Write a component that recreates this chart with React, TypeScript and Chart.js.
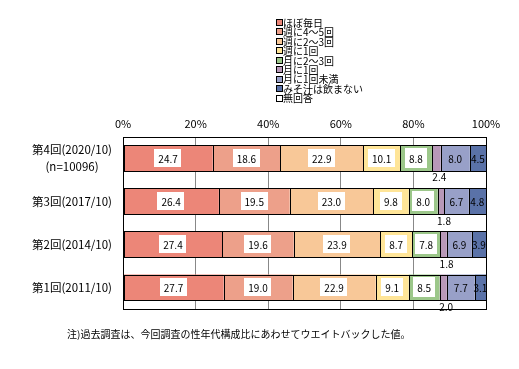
import React, { useEffect, useRef } from "react";
import { Chart, registerables } from "chart.js";

Chart.register(...registerables);

const categories: (string | string[])[] = [
  ["第4回(2020/10)", "(n=10096)"],
  "第3回(2017/10)",
  "第2回(2014/10)",
  "第1回(2011/10)",
];

const seriesNames = [
  "ほぼ毎日",
  "週に4～5回",
  "週に2～3回",
  "週に1回",
  "月に2～3回",
  "月に1回",
  "月に1回未満",
  "みそ汁は飲まない",
  "無回答",
];

const seriesColors = [
  "#EC8678",
  "#EDA08A",
  "#F8C898",
  "#FFE598",
  "#9CC78A",
  "#B898B8",
  "#98A0C8",
  "#5A72A8",
  "#FFFFFF",
];

const almostDaily = [24.7, 26.4, 27.4, 27.7];
const week4to5 = [18.6, 19.5, 19.6, 19.0];
const week2to3 = [22.9, 23.0, 23.9, 22.9];
const week1 = [10.1, 9.8, 8.7, 9.1];
const month2to3 = [8.8, 8.0, 7.8, 8.5];
const month1 = [2.4, 1.8, 1.8, 2.0];
const lessThanMonthly = [8.0, 6.7, 6.9, 7.7];
const never = [4.5, 4.8, 3.9, 3.1];
const noAnswer = [0, 0, 0, 0];

const seriesValues = [
  almostDaily,
  week4to5,
  week2to3,
  week1,
  month2to3,
  month1,
  lessThanMonthly,
  never,
  noAnswer,
];

const xTicks = [0, 20, 40, 60, 80, 100];

const footnote = "注)過去調査は、今回調査の性年代構成比にあわせてウエイトバックした値。";

const FONT = "'Noto Sans CJK JP', 'Noto Sans', sans-serif";

const labelPlugin = {
  id: "customLabels",
  afterDatasetsDraw(chart: any) {
    const ctx = chart.ctx;
    ctx.save();
    // segment outlines, pixel aligned
    ctx.strokeStyle = "#000";
    ctx.lineWidth = 1;
    chart.data.datasets.forEach((ds: any, i: number) => {
      const meta = chart.getDatasetMeta(i);
      meta.data.forEach((bar: any, j: number) => {
        if (!ds.data[j]) return;
        const l = Math.round(Math.min(bar.x, bar.base));
        const r = Math.round(Math.max(bar.x, bar.base));
        const t = Math.round(bar.y - bar.height / 2);
        const b = Math.round(bar.y + bar.height / 2);
        ctx.strokeRect(l + 0.5, t + 0.5, r - l, b - t);
      });
    });

    ctx.font = `10px ${FONT}`;
    ctx.textAlign = "center";
    ctx.textBaseline = "middle";
    chart.data.datasets.forEach((ds: any, i: number) => {
      const meta = chart.getDatasetMeta(i);
      meta.data.forEach((bar: any, j: number) => {
        const v = ds.data[j];
        if (!v) return;
        const text = v.toFixed(1);
        const cx = (bar.x + bar.base) / 2;
        const cy = bar.y;
        if (i <= 4) {
          const w = ctx.measureText(text).width + 8;
          const h = i === 4 ? 20 : 18;
          ctx.fillStyle = "#FFFFFF";
          ctx.fillRect(Math.round(cx - w / 2), Math.round(cy - h / 2), Math.round(w), h);
          ctx.fillStyle = "#000";
          ctx.fillText(text, cx, cy + 0.5);
        } else if (i === 5) {
          ctx.fillStyle = "#000";
          ctx.fillText(text, cx + 3, cy + bar.height / 2 + 6.5);
        } else {
          ctx.fillStyle = "#000";
          ctx.fillText(text, cx, cy + 0.5);
        }
      });
    });
    ctx.restore();
  },
  afterDraw(chart: any) {
    const ctx = chart.ctx;
    const a = chart.chartArea;
    ctx.save();
    ctx.strokeStyle = "#000";
    ctx.lineWidth = 1;
    ctx.strokeRect(Math.round(a.left) + 0.5, Math.round(a.top) + 0.5, Math.round(a.right - a.left), Math.round(a.bottom - a.top));

    // legend
    ctx.font = `10px ${FONT}`;
    ctx.textBaseline = "middle";
    ctx.textAlign = "left";
    chart.data.datasets.forEach((ds: any, i: number) => {
      const y = 22.5 + i * 9.45;
      const ty = Math.round(y - 2.5);
      ctx.fillStyle = ds.backgroundColor;
      ctx.fillRect(277, ty, 5, 5);
      ctx.strokeStyle = "#000";
      ctx.strokeRect(276.5, ty - 0.5, 6, 6);
      ctx.fillStyle = "#000";
      ctx.fillText(ds.label, 283, y + 0.5);
    });

    // footnote
    ctx.font = `10px ${FONT}`;
    ctx.fillText(footnote, 67, 334);
    ctx.restore();
  },
};

export default function App() {
  const ref = useRef<HTMLCanvasElement | null>(null);
  useEffect(() => {
    if (!ref.current) return;
    const chart = new Chart(ref.current, {
      type: "bar",
      data: {
        labels: categories,
        datasets: seriesNames.map((name, i) => ({
          label: name,
          data: seriesValues[i],
          backgroundColor: seriesColors[i],
          borderWidth: 0,
          barPercentage: 0.6,
          categoryPercentage: 1.0,
        })),
      },
      options: {
        indexAxis: "y",
        responsive: false,
        animation: false,
        devicePixelRatio: 1,
        layout: { padding: { top: 111.5, right: 33, bottom: 60, left: 0 } },
        plugins: {
          legend: { display: false },
          tooltip: { enabled: false },
        },
        scales: {
          x: {
            position: "top",
            stacked: true,
            min: 0,
            max: 100,
            afterBuildTicks: (scale: any) => {
              scale.ticks = xTicks.map((v) => ({ value: v }));
            },
            ticks: {
              callback: (v: any) => `${v}%`,
              color: "#000",
              font: { family: FONT, size: 11 },
              padding: 6,
              maxRotation: 0,
            },
            grid: {
              drawTicks: false,
              color: (c: any) =>
                c.tick && (c.tick.value === 0 || c.tick.value === 100) ? "rgba(0,0,0,0)" : "#888888",
            },
            border: { display: false },
          },
          y: {
            stacked: true,
            afterFit: (scale: any) => {
              scale.width = 123;
            },
            ticks: {
              color: "#000",
              font: { family: FONT, size: 11.5, lineHeight: 1.45 },
              padding: 11,
              crossAlign: "center",
            },
            grid: { display: false, drawTicks: false },
            border: { display: false },
          },
        },
      },
      plugins: [labelPlugin],
    } as any);
    return () => chart.destroy();
  }, []);
  return (
    <div style={{ position: "fixed", left: 0, top: 0, width: 519, height: 369, background: "#fff" }}>
      <canvas ref={ref} width={519} height={369} style={{ width: 519, height: 369 }} />
    </div>
  );
}
